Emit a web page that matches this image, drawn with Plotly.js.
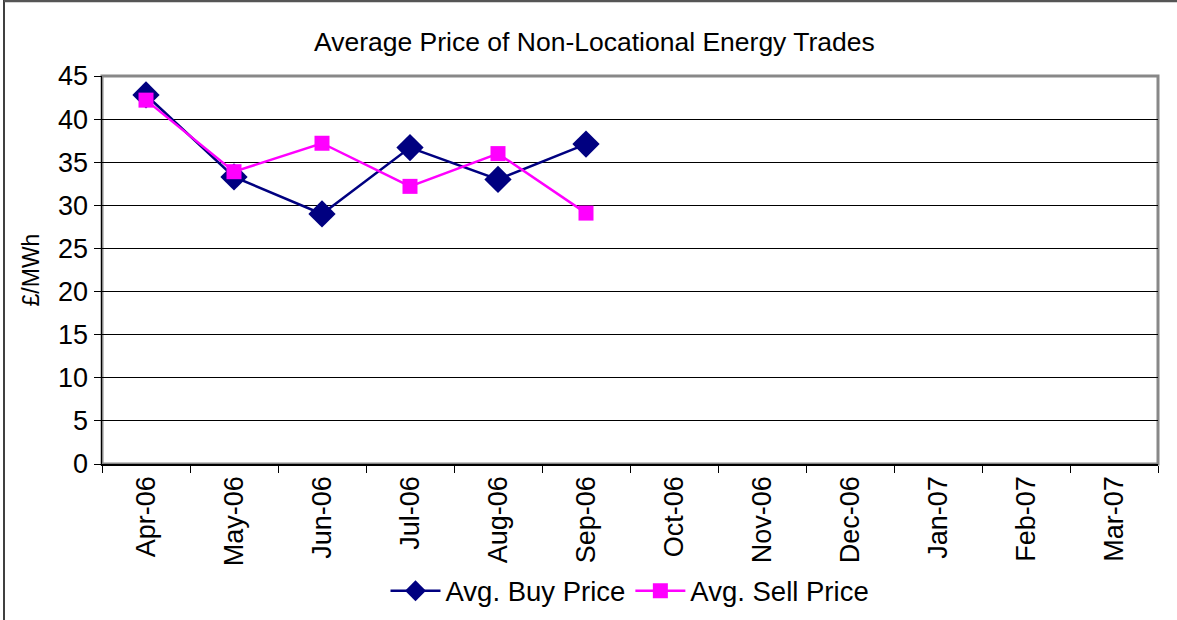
<!DOCTYPE html>
<html>
<head>
<meta charset="utf-8">
<script src="https://cdn.plot.ly/plotly-3.0.1.min.js"></script>
<style>html,body{margin:0;padding:0;background:#fff;}#chart{width:1177px;height:620px;}</style>
</head>
<body>
<div id="chart"></div>
<script>
const months = ["Apr-06","May-06","Jun-06","Jul-06","Aug-06","Sep-06","Oct-06","Nov-06","Dec-06","Jan-07","Feb-07","Mar-07"];
const buyPrice = [42.8, 33.3, 29.0, 36.7, 33.0, 37.1];
const sellPrice = [42.2, 33.9, 37.2, 32.2, 36.0, 29.1];
const yTicks = [0,5,10,15,20,25,30,35,40,45];

const font = "Liberation Sans, Arial, sans-serif";
const traces = [
  {x: months.slice(0, buyPrice.length), y: buyPrice, name: "Avg. Buy Price", type: "scatter", mode: "lines+markers",
   line: {color: "#000080", width: 2.5}, marker: {symbol: "diamond", size: 21, color: "#000080"}},
  {x: months.slice(0, sellPrice.length), y: sellPrice, name: "Avg. Sell Price", type: "scatter", mode: "lines+markers",
   line: {color: "#FF00FF", width: 2.5}, marker: {symbol: "square", size: 15, color: "#FF00FF"}}
];
const layout = {
  width: 1177, height: 620,
  margin: {l: 102, r: 19, t: 76, b: 156, autoexpand: false},
  paper_bgcolor: "#fff", plot_bgcolor: "#fff",
  font: {family: font, size: 27, color: "#000"},
  title: {text: "Average Price of Non-Locational Energy Trades", x: 0.505, xref: "container", y: 0.932, yref: "container", xanchor: "center", yanchor: "middle", font: {family: font, size: 26.5, color: "#000"}},
  xaxis: {type: "category", categoryarray: months, categoryorder: "array", tickvals: months, ticktext: months,
          range: [-0.5, 11.5], tickangle: -90, tickson: "boundaries", ticks: "outside", ticklen: 7, tickcolor: "#000",
          showline: true, linecolor: "#000", linewidth: 1.5, showgrid: false, zeroline: false, tickfont: {family: font, size: 27}, automargin: false},
  yaxis: {range: [0, 45], tickvals: yTicks, ticks: "outside", ticklen: 7, tickcolor: "#000", showline: true, linecolor: "#000", linewidth: 1.5,
          showgrid: true, gridcolor: "#000", gridwidth: 1, zeroline: false, tickfont: {family: font, size: 27},
          title: {text: "£/MWh", standoff: 12, font: {family: font, size: 23}}, automargin: false},
  showlegend: true,
  legend: {orientation: "h", x: 0.5, xanchor: "center", y: -0.327, yanchor: "middle", font: {family: font, size: 27.5}, bgcolor: "rgba(0,0,0,0)", itemwidth: 50, tracegroupgap: 0},
  shapes: [
    {type: "rect", xref: "paper", yref: "paper", x0: 0, x1: 1, y0: 0, y1: 1, line: {color: "#888", width: 3}, layer: "below"},
    {type: "line", xref: "paper", yref: "paper", x0: -0.0928, x1: -0.0928, y0: -0.45, y1: 1.2, line: {color: "#000", width: 1.5}},
    {type: "line", xref: "paper", yref: "paper", x0: -0.0928, x1: 1.02, y0: 1.194, y1: 1.194, line: {color: "#555", width: 3}}
  ]
};
Plotly.newPlot("chart", traces, layout, {displayModeBar: false, staticPlot: true});
</script>
</body>
</html>
